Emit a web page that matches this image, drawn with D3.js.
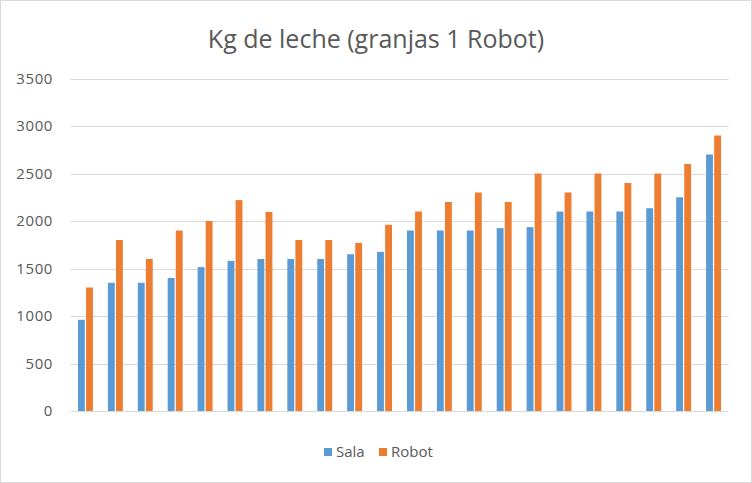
<!DOCTYPE html>
<html>
<head>
<meta charset="utf-8">
<script src="https://cdn.jsdelivr.net/npm/d3@7"></script>
<style>
  body { margin: 0; background: #fff; }
  text { font-family: "Open Sans", "Noto Sans", sans-serif; }
</style>
</head>
<body>
<svg id="chart"></svg>
<script>
// values
var granjas = d3.range(1, 23).map(String);
var sala  = [960, 1350, 1350, 1400, 1515, 1580, 1600, 1600, 1600, 1650, 1675,
             1900, 1900, 1900, 1925, 1935, 2100, 2100, 2100, 2135, 2250, 2700];
var robot = [1300, 1800, 1600, 1900, 2000, 2220, 2095, 1800, 1800, 1770, 1960,
             2100, 2200, 2300, 2200, 2500, 2300, 2500, 2400, 2500, 2600, 2900];
var series = ["Sala", "Robot"];
var colors = ["#5b9bd5", "#ed7d31"];
var yTicks = [0, 500, 1000, 1500, 2000, 2500, 3000, 3500];

var width = 752, height = 483;
var margin = {top: 78.5, right: 23.5, bottom: 72, left: 70.5};

var svg = d3.select("#chart")
    .attr("width", width)
    .attr("height", height);

// chart border
svg.append("rect")
    .attr("x", 0.5).attr("y", 0.5)
    .attr("width", width - 1).attr("height", height - 1)
    .attr("fill", "#fff")
    .attr("stroke", "#d9d9d9");

var x0 = d3.scaleBand()
    .domain(granjas)
    .range([margin.left, width - margin.right])
    .paddingInner(0.5)
    .paddingOuter(0.25);

var x1 = d3.scaleBand()
    .domain(series)
    .range([0, x0.bandwidth()])
    .paddingInner(0.15);

var y = d3.scaleLinear()
    .domain([0, 3500])
    .range([height - margin.bottom, margin.top]);

// gridlines
svg.append("g")
    .selectAll("line")
    .data(yTicks)
    .enter()
    .append("line")
    .attr("x1", margin.left)
    .attr("x2", width - margin.right)
    .attr("y1", function(d){ return Math.round(y(d)) + 0.5; })
    .attr("y2", function(d){ return Math.round(y(d)) + 0.5; })
    .attr("stroke", "#d9d9d9")
    .attr("stroke-width", 1);

// y axis labels
var yAxis = d3.axisLeft(y)
    .tickValues(yTicks)
    .tickFormat(d3.format("d"))
    .tickSize(0)
    .tickPadding(0);

var ga = svg.append("g")
    .attr("transform", "translate(" + 53 + ",0)")
    .call(yAxis);
ga.select(".domain").remove();
ga.selectAll("text")
    .attr("fill", "#595959")
    .style("font-size", "15px")
    .style("letter-spacing", "0.6px")
    .style("font-family", "'Open Sans', sans-serif");

// bars
var rows = granjas.map(function(g, i){
    return {g: g, vals: [{s: "Sala", v: sala[i]}, {s: "Robot", v: robot[i]}]};
});

svg.append("g")
    .selectAll("g")
    .data(rows)
    .enter()
    .append("g")
    .attr("transform", function(d){ return "translate(" + x0(d.g) + ",0)"; })
    .selectAll("rect")
    .data(function(d){ return d.vals; })
    .enter()
    .append("rect")
    .attr("x", function(d){ return x1(d.s); })
    .attr("width", x1.bandwidth())
    .attr("y", function(d){ return y(d.v); })
    .attr("height", function(d){ return y(0) - y(d.v); })
    .attr("fill", function(d, i){ return colors[i]; });

// title
svg.append("text")
    .attr("x", width / 2)
    .attr("y", 48)
    .attr("text-anchor", "middle")
    .attr("fill", "#595959")
    .style("font-size", "25px")
    .text("Kg de leche (granjas 1 Robot)");

// legend
var legend = svg.append("g");
var legX = [324, 379];
series.forEach(function(s, i){
    legend.append("rect")
        .attr("x", legX[i]).attr("y", 448)
        .attr("width", 8).attr("height", 8)
        .attr("fill", colors[i]);
    legend.append("text")
        .attr("x", legX[i] + 12)
        .attr("y", 457)
        .attr("fill", "#595959")
        .style("font-size", "15px")
        .text(s);
});
</script>
</body>
</html>
